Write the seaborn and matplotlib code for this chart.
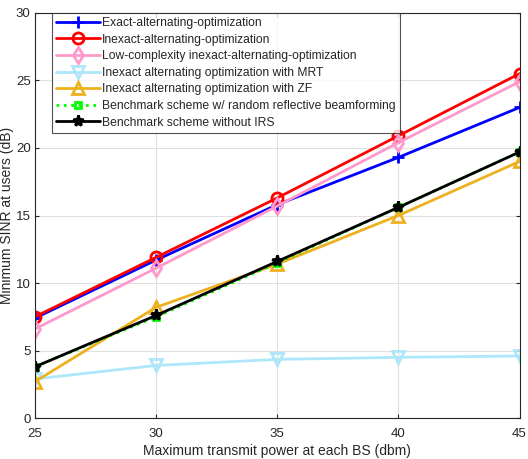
import numpy as np
import pandas as pd
import seaborn as sns
import matplotlib
matplotlib.use('Agg')
import matplotlib.pyplot as plt

power = [25, 30, 35, 40, 45]
exact_ao = [7.4, 11.7, 15.8, 19.3, 23.0]
inexact_ao = [7.5, 11.9, 16.3, 20.9, 25.5]
lowcomp_ao = [6.6, 11.1, 15.7, 20.4, 24.9]
inexact_mrt = [2.9, 3.9, 4.35, 4.5, 4.6]
inexact_zf = [2.7, 8.2, 11.4, 15.0, 19.0]
bench_random = [3.8, 7.5, 11.5, 15.6, 19.7]
bench_no_irs = [3.8, 7.6, 11.6, 15.6, 19.7]

labels = ['Exact-alternating-optimization',
          'Inexact-alternating-optimization',
          'Low-complexity inexact-alternating-optimization',
          'Inexact alternating optimization with MRT',
          'Inexact alternating optimization with ZF',
          'Benchmark scheme w/ random reflective beamforming',
          'Benchmark scheme without IRS']

sns.set_style('whitegrid')
plt.rcParams['font.family'] = ['Liberation Sans', 'DejaVu Sans']

fig = plt.figure(figsize=(5.28, 4.59), dpi=100)
ax = fig.add_axes([0.066, 0.089, 0.918, 0.883])

series = [exact_ao, inexact_ao, lowcomp_ao, inexact_mrt, inexact_zf, bench_random, bench_no_irs]
colors = ['#0000ff', '#ff0000', '#ff99cc', '#aee6fa', '#edb120', '#00ff00', '#000000']
markers = ['+', 'o', 'd', 'v', '^', 's', '*']
styles = ['-', '-', '-', '-', '-', ':', '-']
msizes = [9, 8, 8, 8, 9, 5, 8]

for vals, lab, c, m, ls, ms in zip(series, labels, colors, markers, styles, msizes):
    sns.lineplot(x=power, y=vals, ax=ax, color=c, marker=m, linestyle=ls, linewidth=2,
                 markersize=ms, markerfacecolor='none' if m not in ('+', '*') else c,
                 markeredgecolor=c, markeredgewidth=2, label=lab)

ax.set_xlim(25, 45)
ax.set_ylim(0, 30)
ax.set_xticks([25, 30, 35, 40, 45])
ax.set_yticks([0, 5, 10, 15, 20, 25, 30])
ax.grid(True, color='#e0e0e0', linewidth=0.8)
for s in ax.spines.values():
    s.set_visible(True)
    s.set_color('#262626')
    s.set_linewidth(0.8)
ax.tick_params(direction='in', length=3, labelsize=9.5, colors='#262626', top=True, right=True,
               bottom=True, left=True)
ax.tick_params(axis='x', pad=7)
ax.tick_params(axis='y', pad=3)
ax.set_xlabel('Maximum transmit power at each BS (dbm)', fontsize=10, color='#262626', labelpad=3)
ax.set_ylabel('Minimum SINR at users (dB)', fontsize=10, color='#262626', labelpad=1)

leg = ax.legend(loc='upper left', bbox_to_anchor=(0.0, 1.0), fontsize=8.7, frameon=True,
                fancybox=False, edgecolor='#262626', handlelength=3.6, labelspacing=0.38,
                borderpad=0.35, handletextpad=0.2, borderaxespad=0.0)
leg.get_frame().set_linewidth(0.8)
leg.set_bbox_to_anchor((0.035, 1.0))

fig.savefig('out.png', dpi=100)
